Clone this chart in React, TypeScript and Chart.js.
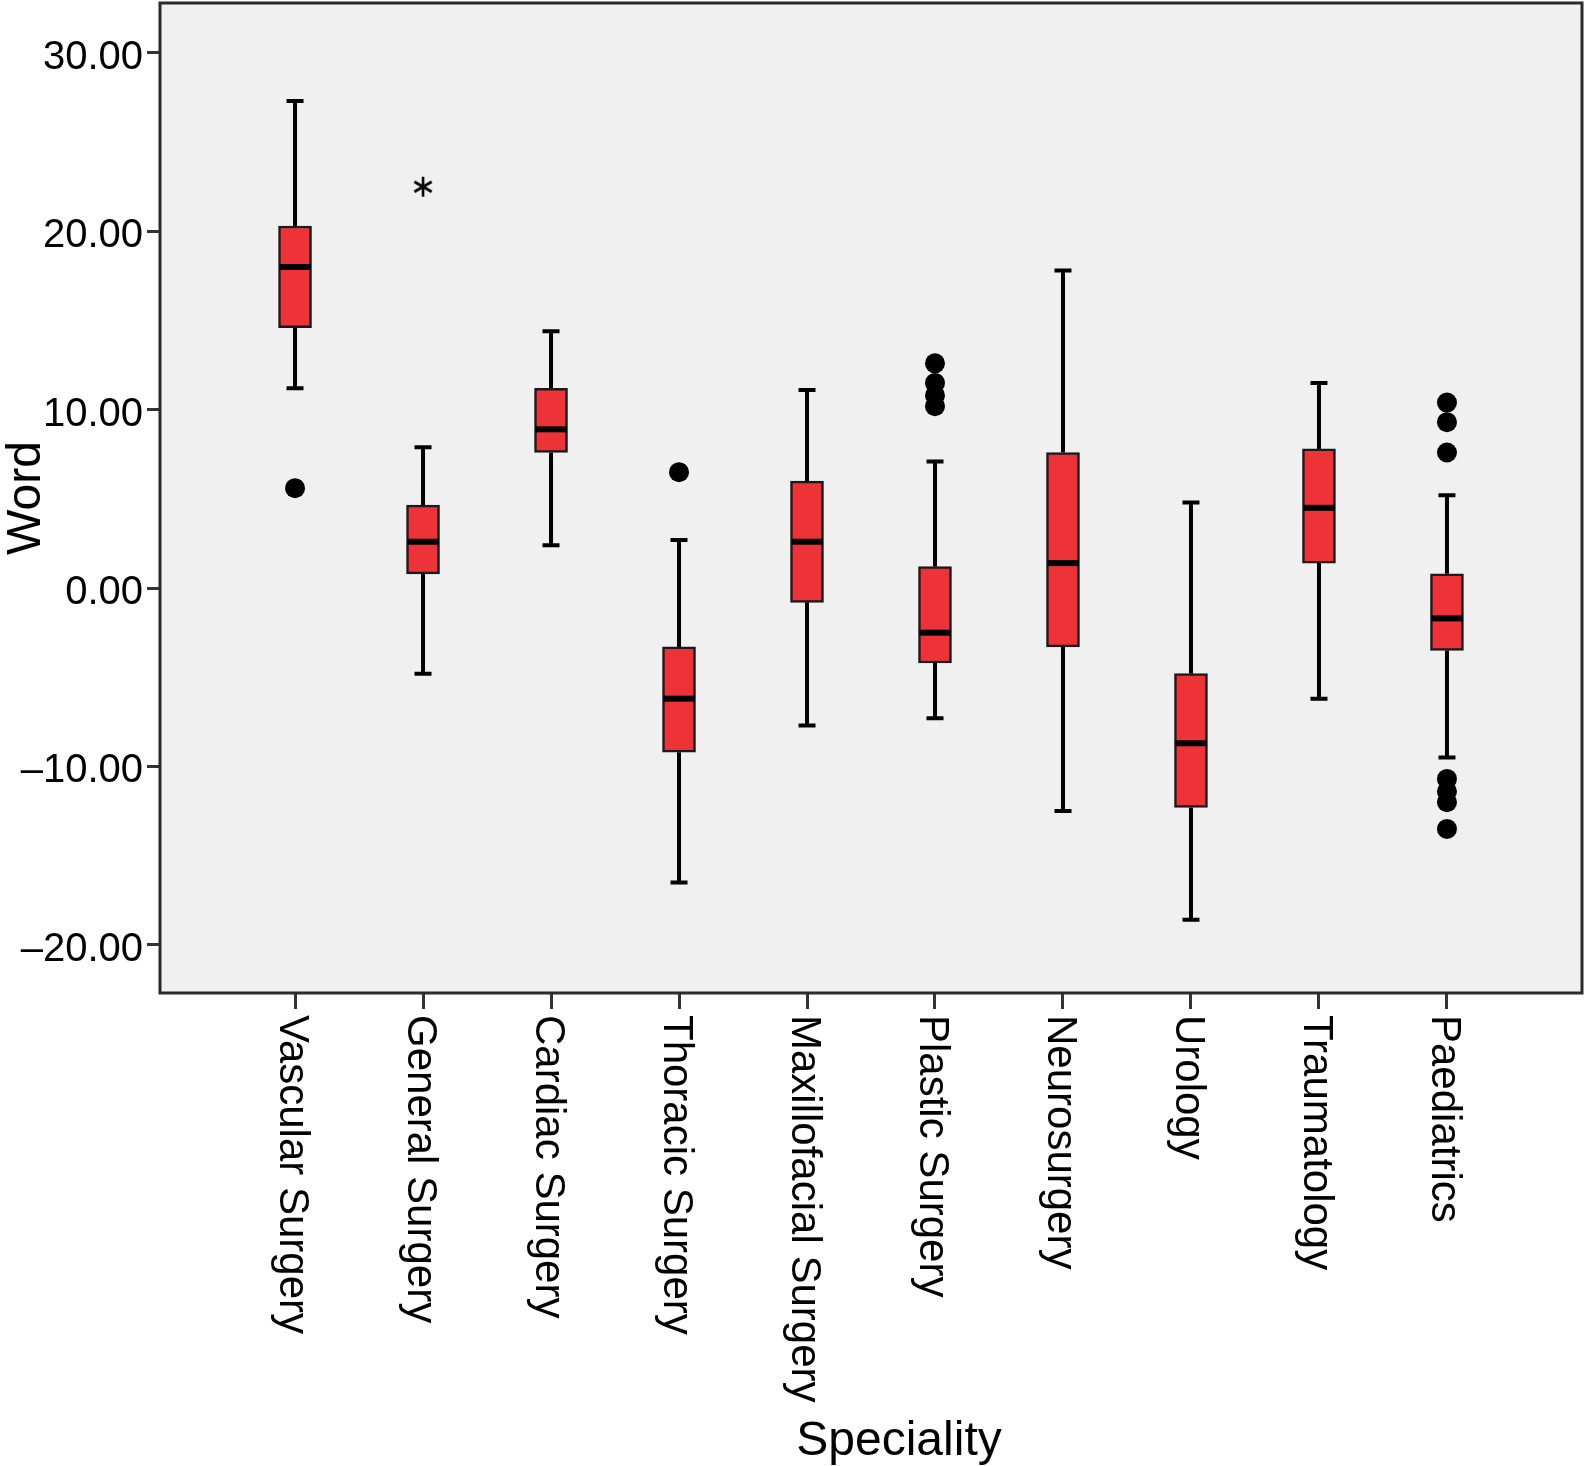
import React, { useEffect, useRef } from "react";
import { Chart, registerables } from "chart.js";

Chart.register(...registerables);

const categories = [
  "Vascular Surgery",
  "General Surgery",
  "Cardiac Surgery",
  "Thoracic Surgery",
  "Maxillofacial Surgery",
  "Plastic Surgery",
  "Neurosurgery",
  "Urology",
  "Traumatology",
  "Paediatrics",
];
const whiskerLow = [11.2, -4.8, 2.4, -16.5, -7.7, -7.3, -12.5, -18.6, -6.2, -9.5];
const quartile1 = [14.6, 0.8, 7.6, -9.2, -0.8, -4.2, -3.3, -12.3, 1.4, -3.5];
const medians = [18.0, 2.6, 8.9, -6.2, 2.6, -2.5, 1.4, -8.7, 4.5, -1.7];
const quartile3 = [20.3, 4.65, 11.2, -3.3, 6.0, 1.2, 7.6, -4.8, 7.8, 0.8];
const whiskerHigh = [27.3, 7.9, 14.4, 2.7, 11.1, 7.1, 17.8, 4.8, 11.5, 5.2];
// outliers (category number, 1-based)
const outlierCategory = [1, 4, 6, 6, 6, 6, 10, 10, 10, 10, 10, 10, 10];
const outlierValue = [5.6, 6.5, 12.6, 11.5, 10.8, 10.2, 10.4, 9.3, 7.6, -10.7, -11.4, -12.0, -13.5];
// extreme values (asterisk)
const extremeCategory = [2];
const extremeValue = [22.5];
const yTicks = [-20, -10, 0, 10, 20, 30];

const FONT = '"Liberation Sans", Arial, Helvetica, sans-serif';
const BOX_W = 33;
const CAP_W = 17;

function makeStar(): HTMLCanvasElement {
  const c = document.createElement("canvas");
  c.width = 24;
  c.height = 24;
  const g = c.getContext("2d")!;
  g.strokeStyle = "#000";
  g.lineWidth = 2.6;
  g.lineCap = "butt";
  const r = 10;
  for (let k = 0; k < 6; k++) {
    const a = (Math.PI / 3) * k - Math.PI / 2;
    g.beginPath();
    g.moveTo(12, 12);
    g.lineTo(12 + r * Math.cos(a), 12 + r * Math.sin(a));
    g.stroke();
  }
  return c;
}

const boxPlugin = {
  id: "boxplotExtras",
  beforeDraw(chart: any) {
    const { ctx, chartArea: a } = chart;
    ctx.save();
    ctx.fillStyle = "#f0f0f0";
    ctx.fillRect(a.left, a.top, a.right - a.left, a.bottom - a.top);
    ctx.restore();
  },
  beforeDatasetsDraw(chart: any) {
    const { ctx } = chart;
    const xs = chart.scales.x;
    const ys = chart.scales.y;
    ctx.save();
    ctx.strokeStyle = "#000";
    ctx.lineWidth = 4;
    categories.forEach((_, i) => {
      const px = xs.getPixelForValue(i + 1);
      const hi = ys.getPixelForValue(whiskerHigh[i]);
      const lo = ys.getPixelForValue(whiskerLow[i]);
      const b3 = ys.getPixelForValue(quartile3[i]);
      const b1 = ys.getPixelForValue(quartile1[i]);
      ctx.beginPath();
      ctx.moveTo(px, hi);
      ctx.lineTo(px, b3);
      ctx.moveTo(px, b1);
      ctx.lineTo(px, lo);
      ctx.moveTo(px - CAP_W / 2, hi);
      ctx.lineTo(px + CAP_W / 2, hi);
      ctx.moveTo(px - CAP_W / 2, lo);
      ctx.lineTo(px + CAP_W / 2, lo);
      ctx.stroke();
    });
    ctx.restore();
  },
  afterDatasetsDraw(chart: any) {
    const { ctx } = chart;
    const xs = chart.scales.x;
    const ys = chart.scales.y;
    ctx.save();
    ctx.strokeStyle = "#000";
    ctx.lineWidth = 6;
    categories.forEach((_, i) => {
      const px = xs.getPixelForValue(i + 1);
      const m = ys.getPixelForValue(medians[i]);
      ctx.beginPath();
      ctx.moveTo(px - BOX_W / 2 + 1, m);
      ctx.lineTo(px + BOX_W / 2 - 1, m);
      ctx.stroke();
    });
    ctx.restore();
  },
  afterDraw(chart: any) {
    const { ctx, chartArea: a } = chart;
    const xs = chart.scales.x;
    ctx.save();
    ctx.strokeStyle = "#2a2a2a";
    ctx.lineWidth = 3;
    ctx.strokeRect(a.left, a.top, a.right - a.left, a.bottom - a.top);
    // category labels, rotated clockwise
    ctx.fillStyle = "#000";
    ctx.font = `42px ${FONT}`;
    ctx.textAlign = "left";
    ctx.textBaseline = "alphabetic";
    categories.forEach((label, i) => {
      const px = xs.getPixelForValue(i + 1);
      ctx.save();
      ctx.translate(px, a.bottom + 22);
      ctx.rotate(Math.PI / 2);
      ctx.fillText(label, 0, 15);
      ctx.restore();
    });
    // x axis title
    ctx.font = `48px ${FONT}`;
    ctx.textAlign = "center";
    ctx.textBaseline = "alphabetic";
    ctx.fillText("Speciality", 899, 1455);
    ctx.restore();
  },
};

export default function App() {
  const canvasRef = useRef<HTMLCanvasElement | null>(null);

  useEffect(() => {
    document.body.style.margin = "0";
    const canvas = canvasRef.current;
    if (!canvas) return;
    const star = makeStar();

    const chart = new Chart(canvas, {
      type: "bar",
      data: {
        datasets: [
          {
            type: "bar",
            label: "Box",
            data: categories.map((_, i) => ({ x: i + 1, y: [quartile1[i], quartile3[i]] })) as any,
            backgroundColor: "#ee3338",
            borderColor: "#1a1a1a",
            borderWidth: 2.5,
            borderSkipped: false,
            barThickness: BOX_W,
          } as any,
          {
            type: "scatter",
            label: "Outliers",
            data: outlierCategory.map((c, i) => ({ x: c, y: outlierValue[i] })),
            backgroundColor: "#000",
            borderColor: "#000",
            borderWidth: 0,
            pointRadius: 10,
            pointHoverRadius: 10,
          } as any,
          {
            type: "scatter",
            label: "Extremes",
            data: extremeCategory.map((c, i) => ({ x: c, y: extremeValue[i] })),
            pointStyle: star,
            pointRadius: 10,
          } as any,
        ],
      },
      options: {
        animation: false,
        responsive: true,
        maintainAspectRatio: false,
        layout: { autoPadding: false, padding: { top: 3, right: 4, left: 0, bottom: 0 } },
        plugins: {
          legend: { display: false },
          tooltip: { enabled: false },
        },
        scales: {
          x: {
            type: "linear",
            min: -0.055,
            max: 11.055,
            offset: false,
            afterBuildTicks: (s: any) => {
              s.ticks = categories.map((_, i) => ({ value: i + 1 }));
            },
            afterFit: (s: any) => {
              s.height = 473;
              s.paddingLeft = 0;
              s.paddingRight = 0;
              s.paddingTop = 0;
              s.paddingBottom = 0;
            },
            ticks: { display: false },
            grid: {
              display: true,
              drawOnChartArea: false,
              drawTicks: true,
              tickLength: 16,
              color: "#333",
              lineWidth: 3,
              offset: false,
            },
            border: { display: false },
          },
          y: {
            type: "linear",
            min: -22.7,
            max: 32.8,
            afterBuildTicks: (s: any) => {
              s.ticks = yTicks.map((v) => ({ value: v }));
            },
            afterFit: (s: any) => {
              s.width = 160;
              s.paddingLeft = 0;
              s.paddingRight = 0;
              s.paddingTop = 0;
              s.paddingBottom = 0;
            },
            ticks: {
              font: { family: FONT, size: 40 },
              color: "#000",
              padding: 4,
              labelOffset: 5,
              callback: (v: any) => (Number(v) < 0 ? "\u2013" : "") + Math.abs(Number(v)).toFixed(2),
            },
            grid: {
              display: true,
              drawOnChartArea: false,
              drawTicks: true,
              tickLength: 13,
              color: "#333",
              lineWidth: 3,
            },
            border: { display: false },
            title: {
              display: true,
              text: "Word",
              color: "#000",
              font: { family: FONT, size: 48, lineHeight: 1.1 },
              padding: 0,
            },
          },
        },
      },
      plugins: [boxPlugin],
    });

    return () => chart.destroy();
  }, []);

  return (
    <div style={{ width: 1586, height: 1466, position: "relative", background: "#fff" }}>
      <canvas ref={canvasRef} />
    </div>
  );
}
